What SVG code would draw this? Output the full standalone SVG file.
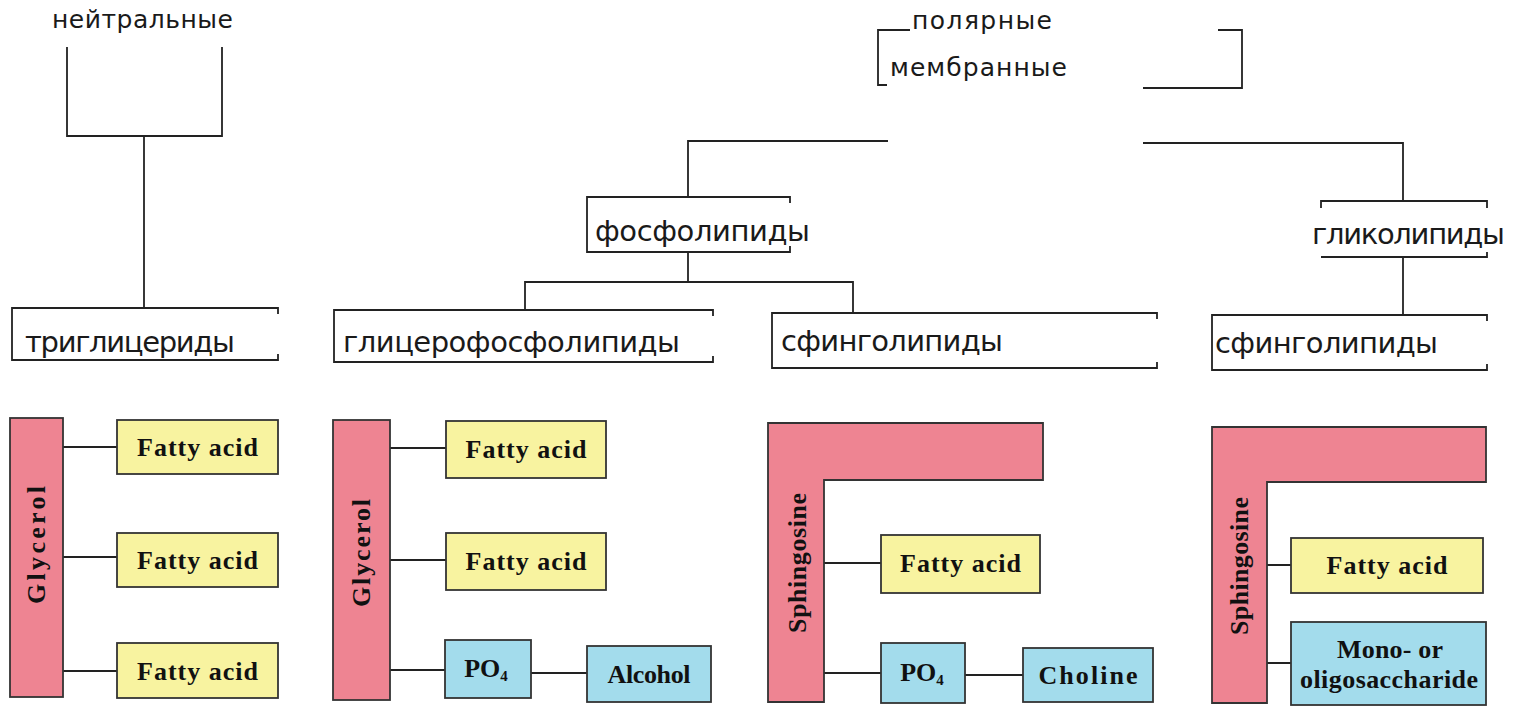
<svg xmlns="http://www.w3.org/2000/svg" width="1518" height="709" viewBox="0 0 1518 709">
<style>
.ru{font-family:"DejaVu Sans","Liberation Sans",sans-serif;fill:#1a1a1a}
.big{font-size:29px}
.sm{font-size:25px}
.ln{fill:none;stroke:#222;stroke-width:1.8}
.pink{fill:#ee8492;stroke:#333;stroke-width:1.8}
.yel{fill:#f8f3a0;stroke:#333;stroke-width:1.8}
.blu{fill:#a3dcec;stroke:#333;stroke-width:1.8}
.en{font-family:"Liberation Serif","DejaVu Serif",serif;font-weight:bold;font-size:26px;fill:#111;text-anchor:middle}
</style>
<rect width="1518" height="709" fill="#ffffff"/>

<g id="connectors" class="ln">
  <path d="M67,47 V136 H222 V47"/>
  <path d="M144,136 V308"/>
  <path d="M910,30 H878 V85 H887"/>
  <path d="M1218,30 H1242 V88 H1143"/>
  <path d="M888,141 H688 V197"/>
  <path d="M1143,143 H1403 V201"/>
  <path d="M688,252 V282"/>
  <path d="M525,310 V282 H853 V313"/>
  <path d="M1403,257 V315"/>
  <path d="M63,447 H117 M63,557 H117 M63,671 H117"/>
  <path d="M390,448 H446 M390,560 H446 M390,670 H445 M531,673 H587"/>
  <path d="M824,563 H881 M824,673 H881 M965,675 H1023"/>
  <path d="M1267,565 H1291 M1267,663 H1291"/>
</g>

<g id="neutral">
  <text class="ru sm" x="52" y="28" textLength="181" lengthAdjust="spacing">нейтральные</text>
</g>
<g id="polar">
  <text class="ru sm" x="912" y="29" textLength="140" lengthAdjust="spacing">полярные</text>
  <text class="ru sm" x="890" y="76" textLength="177" lengthAdjust="spacing">мембранные</text>
</g>

<g id="triglycerides">
  <path class="ln" d="M278,314 V308 H12 V360 H278 V354"/>
  <text class="ru big" x="25" y="352" textLength="210" lengthAdjust="spacing">триглицериды</text>
</g>
<g id="phospholipids">
  <path class="ln" d="M790,203 V197 H587 V252 H790 V246"/>
  <text class="ru big" x="595" y="241" textLength="215" lengthAdjust="spacing">фосфолипиды</text>
</g>
<g id="glycerophospholipids">
  <path class="ln" d="M713,316 V310 H334 V362 H713 V356"/>
  <text class="ru big" x="343" y="352" textLength="337" lengthAdjust="spacing">глицерофосфолипиды</text>
</g>
<g id="sphingolipids-1">
  <path class="ln" d="M1157,319 V313 H772 V368 H1157 V362"/>
  <text class="ru big" x="781" y="351" textLength="222" lengthAdjust="spacing">сфинголипиды</text>
</g>
<g id="glycolipids">
  <path class="ln" d="M1321,208 V201 H1487 V208 M1321,257 H1487 V252"/>
  <text class="ru big" x="1312" y="244" textLength="193" lengthAdjust="spacing">гликолипиды</text>
</g>
<g id="sphingolipids-2">
  <path class="ln" d="M1487,321 V315 H1212 V370 H1487 V364"/>
  <text class="ru big" x="1215" y="353" textLength="223" lengthAdjust="spacing">сфинголипиды</text>
</g>

<g id="tg-glycerol">
  <rect class="pink" x="10" y="418" width="53" height="279"/>
  <text class="en" transform="translate(45,545) rotate(-90)" textLength="118" lengthAdjust="spacing">Glycerol</text>
</g>
<g id="tg-fa1"><rect class="yel" x="117" y="420" width="161" height="54"/><text class="en" x="197.5" y="456" textLength="121" lengthAdjust="spacing">Fatty acid</text></g>
<g id="tg-fa2"><rect class="yel" x="117" y="533" width="161" height="54"/><text class="en" x="197.5" y="569" textLength="121" lengthAdjust="spacing">Fatty acid</text></g>
<g id="tg-fa3"><rect class="yel" x="117" y="643" width="161" height="55"/><text class="en" x="197.5" y="680" textLength="121" lengthAdjust="spacing">Fatty acid</text></g>

<g id="gp-glycerol">
  <rect class="pink" x="333" y="420" width="57" height="280"/>
  <text class="en" transform="translate(370,553) rotate(-90)" textLength="108" lengthAdjust="spacing">Glycerol</text>
</g>
<g id="gp-fa1"><rect class="yel" x="446" y="421" width="160" height="57"/><text class="en" x="526" y="458" textLength="121" lengthAdjust="spacing">Fatty acid</text></g>
<g id="gp-fa2"><rect class="yel" x="446" y="533" width="160" height="57"/><text class="en" x="526" y="570" textLength="121" lengthAdjust="spacing">Fatty acid</text></g>
<g id="gp-po4"><rect class="blu" x="445" y="640" width="86" height="58"/><text class="en" x="486" y="677">PO<tspan font-size="15" dy="4">4</tspan></text></g>
<g id="gp-alcohol"><rect class="blu" x="587" y="646" width="124" height="56"/><text class="en" x="649" y="683" textLength="83" lengthAdjust="spacing">Alcohol</text></g>

<g id="sp-sphingosine">
  <path class="pink" d="M768,423 H1043 V480 H824 V702 H768 Z"/>
  <text class="en" transform="translate(806,563) rotate(-90)" textLength="140" lengthAdjust="spacing">Sphingosine</text>
</g>
<g id="sp-fa"><rect class="yel" x="881" y="535" width="159" height="58"/><text class="en" x="960.5" y="572" textLength="121" lengthAdjust="spacing">Fatty acid</text></g>
<g id="sp-po4"><rect class="blu" x="881" y="643" width="84" height="60"/><text class="en" x="922" y="681">PO<tspan font-size="15" dy="4">4</tspan></text></g>
<g id="sp-choline"><rect class="blu" x="1023" y="648" width="130" height="54"/><text class="en" x="1088" y="684" textLength="99" lengthAdjust="spacing">Choline</text></g>

<g id="gl-sphingosine">
  <path class="pink" d="M1212,427 H1486 V482 H1267 V703 H1212 Z"/>
  <text class="en" transform="translate(1248,566) rotate(-90)" textLength="138" lengthAdjust="spacing">Sphingosine</text>
</g>
<g id="gl-fa"><rect class="yel" x="1291" y="538" width="192" height="55"/><text class="en" x="1387" y="574" textLength="121" lengthAdjust="spacing">Fatty acid</text></g>
<g id="gl-saccharide"><rect class="blu" x="1291" y="622" width="195" height="83"/>
  <text class="en" x="1390" y="658" textLength="106" lengthAdjust="spacing">Mono- or</text>
  <text class="en" x="1389" y="688" textLength="178" lengthAdjust="spacing">oligosaccharide</text>
</g>
</svg>
